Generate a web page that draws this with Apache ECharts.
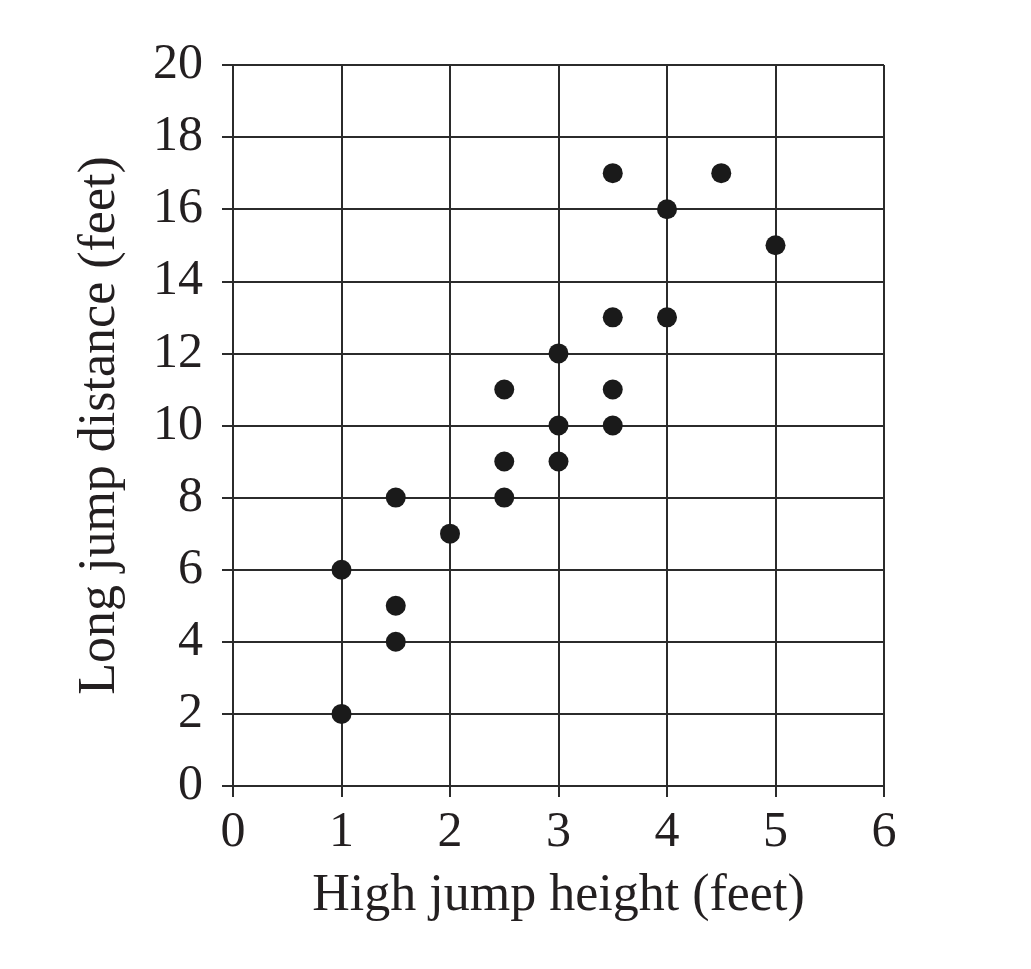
<!DOCTYPE html>
<html>
<head>
<meta charset="utf-8">
<script src="https://cdn.jsdelivr.net/npm/echarts@6/dist/echarts.min.js"></script>
<style>
html, body { margin: 0; padding: 0; background: #fff; }
#main { width: 1031px; height: 969px; }
</style>
</head>
<body>
<div id="main"></div>
<script>
// high jump (x) vs long jump (y), feet
var highJump = [1, 1, 1.5, 1.5, 1.5, 2, 2.5, 2.5, 2.5, 3, 3, 3, 3.5, 3.5, 3.5, 3.5, 4, 4, 4.5, 5];
var longJump = [2, 6, 4, 5, 8, 7, 8, 9, 11, 9, 10, 12, 10, 11, 13, 17, 13, 16, 17, 15];
var xTitle = 'High jump height (feet)';
var yTitle = 'Long jump distance (feet)';

var points = [];
for (var i = 0; i < highJump.length; i++) {
    points.push([highJump[i], longJump[i]]);
}

var lineCol = '#2b2b2b';
var txtCol = '#231f20';
var font = 'Liberation Serif';

var myChart = echarts.init(document.getElementById('main'));
myChart.setOption({
    animation: false,
    grid: { left: 233, right: 147, top: 65, bottom: 183 },
    xAxis: {
        type: 'value', min: 0, max: 6, interval: 1,
        name: xTitle, nameLocation: 'middle', nameGap: 84,
        nameTextStyle: { fontFamily: font, fontSize: 52, color: txtCol },
        axisLine: { show: true, onZero: false, lineStyle: { color: lineCol, width: 2 } },
        axisTick: { show: true, length: 11, lineStyle: { color: lineCol, width: 2 } },
        axisLabel: { fontFamily: font, fontSize: 50, color: txtCol, margin: 22 },
        splitLine: { show: true, lineStyle: { color: lineCol, width: 2 } }
    },
    yAxis: {
        type: 'value', min: 0, max: 20, interval: 2,
        name: yTitle, nameLocation: 'middle', nameGap: 107, nameRotate: 90,
        nameTextStyle: { fontFamily: font, fontSize: 52, color: txtCol },
        axisLine: { show: true, onZero: false, lineStyle: { color: lineCol, width: 2 } },
        axisTick: { show: true, length: 11, lineStyle: { color: lineCol, width: 2 } },
        axisLabel: { fontFamily: font, fontSize: 50, color: txtCol, margin: 30 },
        splitLine: { show: true, lineStyle: { color: lineCol, width: 2 } }
    },
    series: [{
        type: 'scatter',
        data: points,
        symbol: 'circle',
        symbolSize: 20,
        itemStyle: { color: '#1a1a1a', opacity: 1 }
    }]
});
</script>
</body>
</html>
